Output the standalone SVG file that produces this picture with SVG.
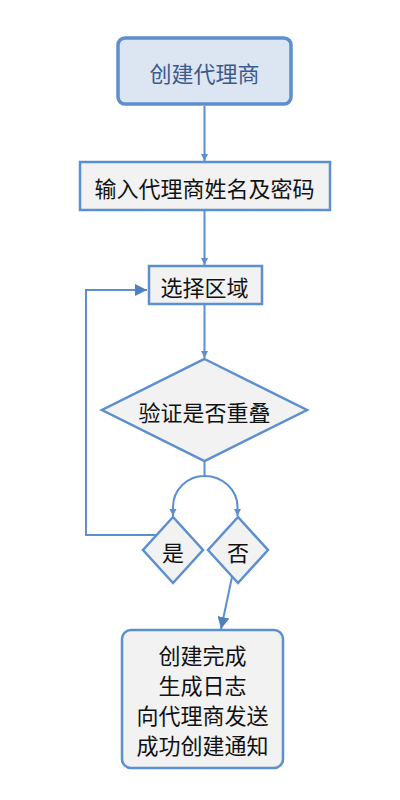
<svg xmlns="http://www.w3.org/2000/svg" width="400" height="800" viewBox="0 0 400 800">
<style>
.t{font-family:"Noto Sans CJK SC","Noto Sans",sans-serif;font-size:22px;fill:#111;text-anchor:middle;dominant-baseline:central}
.n{fill:#f2f2f2;stroke:#5b8fd0;stroke-width:2.5}
.c{fill:none;stroke:#5b8fd0;stroke-width:2}
</style>
<defs>
<marker id="s" viewBox="0 0 10 10" refX="10" refY="5" markerWidth="3.5" markerHeight="4" orient="auto" markerUnits="strokeWidth">
<path d="M0,0 L10,5 L0,10 Z" fill="#5b8fd0"/>
</marker>
<marker id="b" viewBox="0 0 10 10" refX="10" refY="5" markerWidth="6" markerHeight="6" orient="auto" markerUnits="strokeWidth">
<path d="M0,0 L10,5 L0,10 Z" fill="#4f81bd"/>
</marker>
</defs>
<g id="connectors">
<path class="c" d="M204.5,106 L204.5,161" marker-end="url(#s)"/>
<path class="c" d="M204.5,211 L204.5,265" marker-end="url(#s)"/>
<path class="c" d="M204.5,305 L204.5,358" marker-end="url(#s)"/>
<path class="c" d="M204.5,462 L204.5,476 A31.5,31 0 0 0 173,507 L173,516" marker-end="url(#s)"/>
<path class="c" d="M204.5,476 A33,31 0 0 1 237.5,507 L237.5,516" marker-end="url(#s)"/>
<path class="c" d="M157,535 L86,535 L86,290 L147,290" marker-end="url(#b)"/>
<path class="c" d="M232,577 L221,629" marker-end="url(#b)"/>
</g>
<g id="n1">
<rect x="118" y="38" width="173" height="66" rx="7" fill="#dce6f2" stroke="#5b8fd0" stroke-width="3.5"/>
<text class="t" x="204.5" y="72" style="fill:#3d5a8c">创建代理商</text>
</g>
<g id="n2">
<rect class="n" x="80" y="162" width="250" height="48"/>
<text class="t" x="204.5" y="187">输入代理商姓名及密码</text>
</g>
<g id="n3">
<rect class="n" x="149" y="266" width="113" height="38"/>
<text class="t" x="204.5" y="286">选择区域</text>
</g>
<g id="n4">
<polygon class="n" points="204.5,359 307,410 204.5,461 102,410"/>
<text class="t" x="204.5" y="411">验证是否重叠</text>
</g>
<g id="n5">
<polygon class="n" points="173,517 203,550 173,583 143,550"/>
<text class="t" x="173" y="551">是</text>
</g>
<g id="n6">
<polygon class="n" points="238,517 268,550 238,583 208,550"/>
<text class="t" x="238" y="551">否</text>
</g>
<g id="n7">
<rect class="n" x="122" y="630" width="161" height="138" rx="9"/>
<text class="t" x="202.5" y="654">创建完成</text>
<text class="t" x="202.5" y="684">生成日志</text>
<text class="t" x="202.5" y="714">向代理商发送</text>
<text class="t" x="202.5" y="744">成功创建通知</text>
</g>
</svg>
